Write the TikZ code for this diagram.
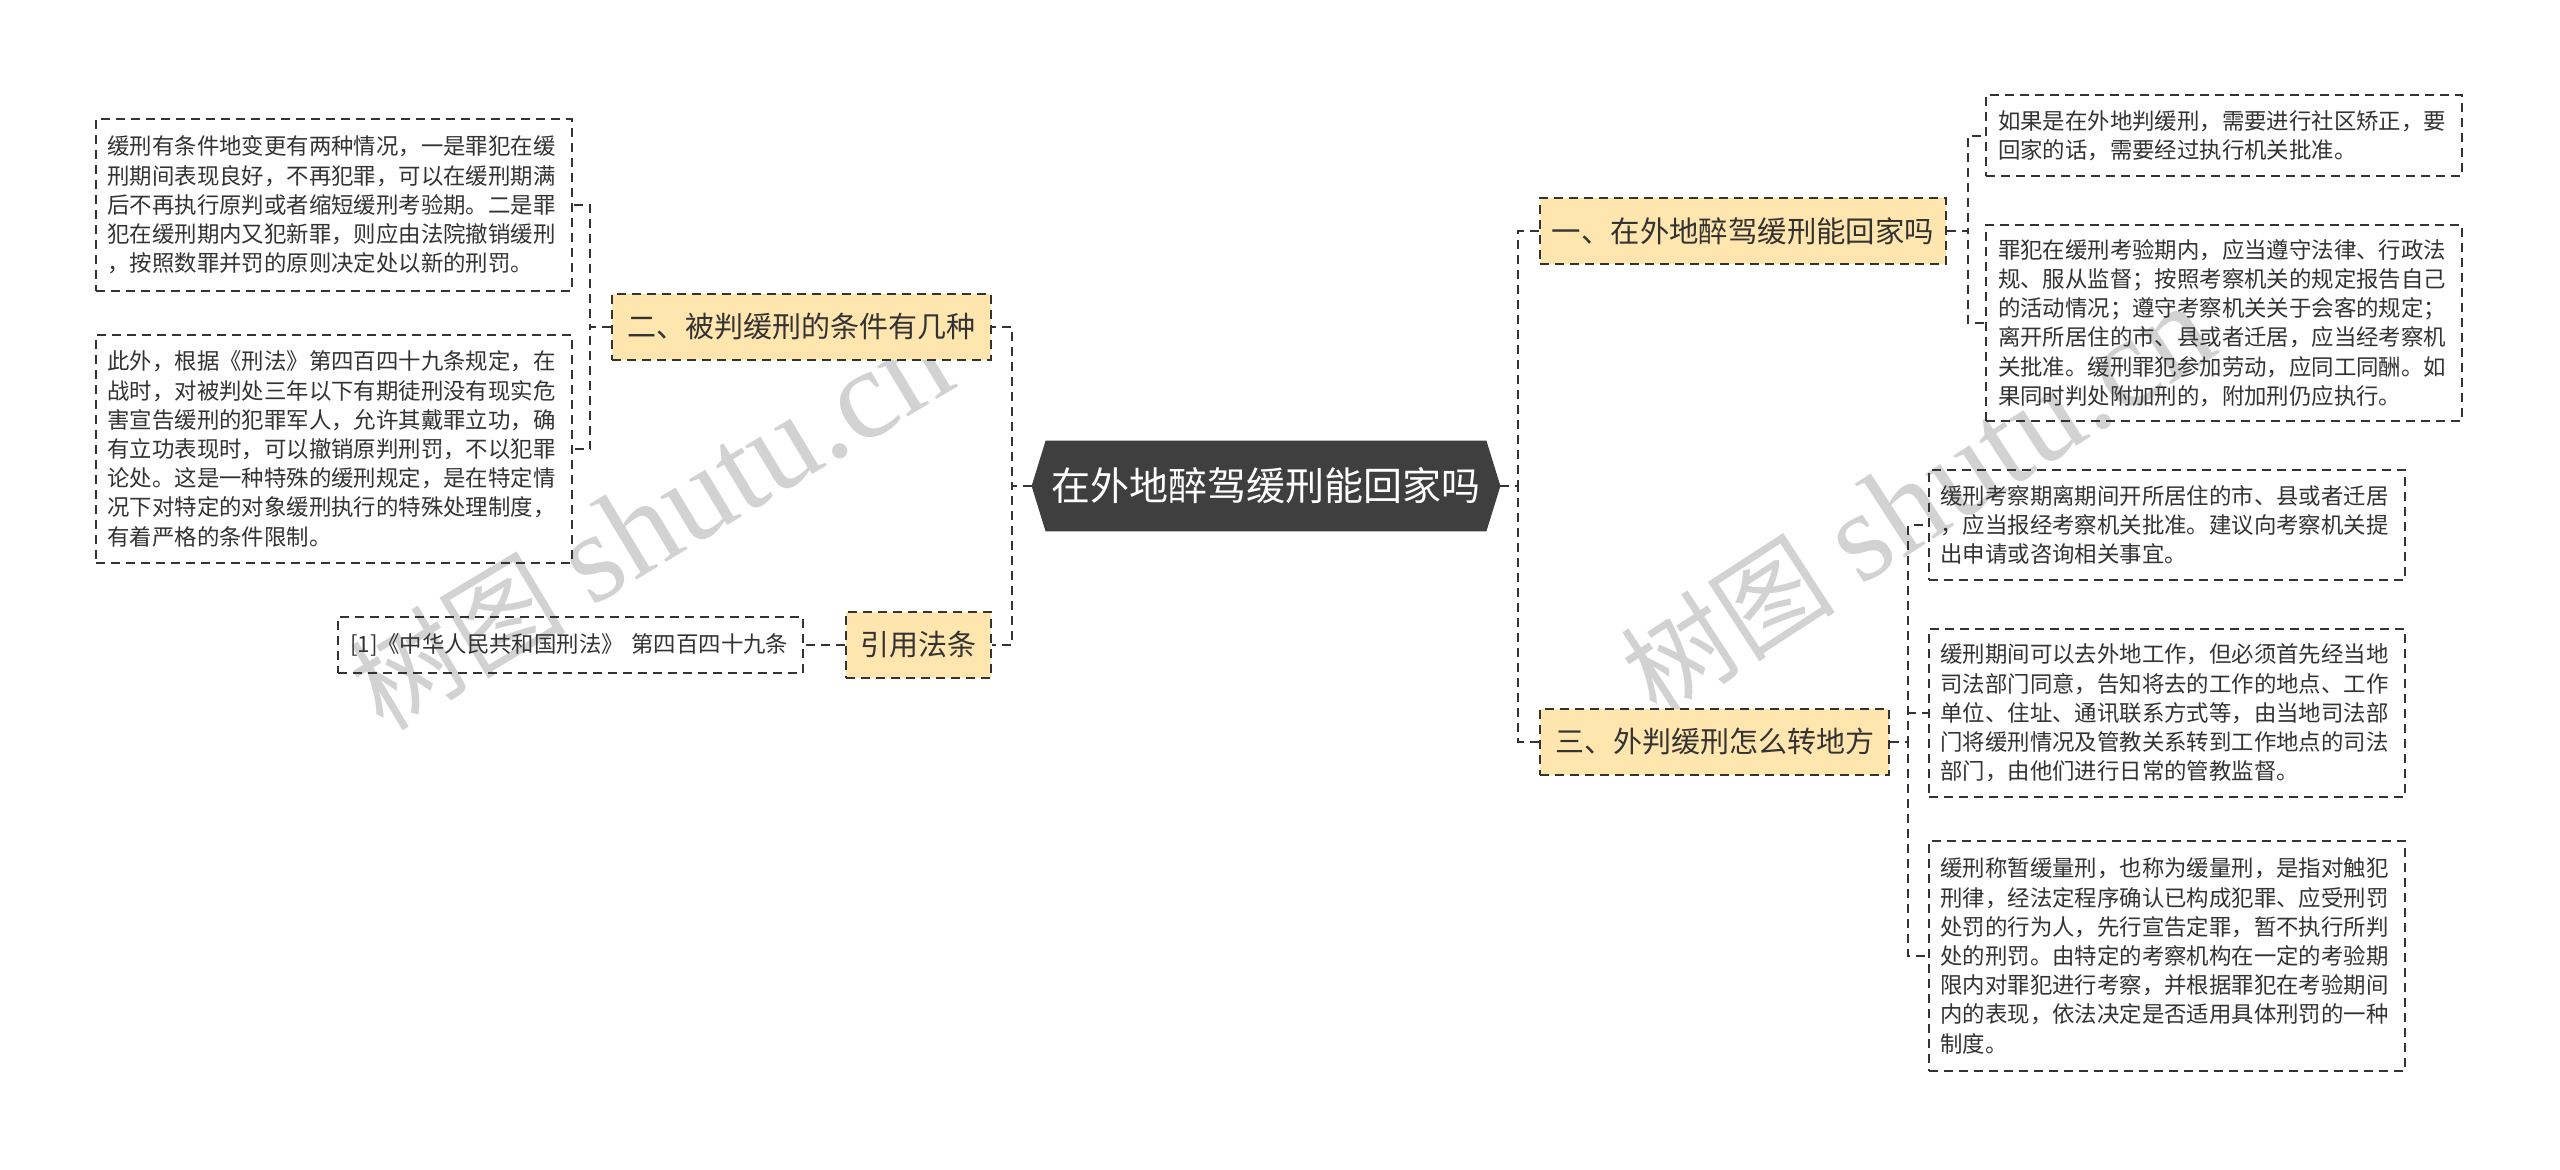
\documentclass[tikz,border=0pt]{standalone}
\usepackage{fontspec}
\setmainfont{Noto Sans CJK SC}
\newfontfamily\wmlatin{Liberation Serif}
\usetikzlibrary{calc,backgrounds}
\definecolor{boxyellow}{HTML}{FFE5AE}
\definecolor{maindark}{HTML}{3F3F3F}
\definecolor{linecol}{HTML}{333333}
\definecolor{wmgray}{HTML}{D2D2D2}
\begin{document}
\begin{tikzpicture}[x=0.5pt,y=-0.5pt,
  conn/.style={draw=linecol, line width=1pt, dash pattern=on 4.5pt off 3pt},
  leaf/.style={draw=linecol, line width=1pt, dash pattern=on 4.5pt off 3pt,
    align=left, text width=226pt, inner xsep=6pt, inner ysep=0pt, text=linecol,
    font=\fontsize{11.2pt}{14.6pt}\selectfont},
  branch/.style={draw=linecol, fill=boxyellow, line width=1pt, dash pattern=on 4.5pt off 3pt,
    inner sep=0pt, minimum height=33pt, text=linecol,
    font=\fontsize{14.5pt}{17pt}\selectfont},
  mainnode/.style={inner sep=0pt, minimum width=220pt, minimum height=45pt, text=white,
    font=\fontsize{19.5pt}{23pt}\selectfont},
  wm/.style={text=wmgray, inner sep=0pt}
]
\useasboundingbox (0,0) rectangle (2560,1169);
\begin{scope}[on background layer]
\fill[white] (0,0) rectangle (2560,1169);
\end{scope}

% watermarks
\node[wm, rotate=31] (wmA) at (651,524) {\fontsize{54pt}{60pt}\selectfont 树图\hspace{0.25em}{\wmlatin\fontsize{64pt}{70pt}\selectfont shutu.cn}};
\node[wm, rotate=33] (wmB) at (1917,501) {\fontsize{54pt}{60pt}\selectfont 树图\hspace{0.25em}{\wmlatin\fontsize{64pt}{70pt}\selectfont shutu.cn}};

% main node
\node[mainnode] (main) at (1266,486) {在外地醉驾缓刑能回家吗};
\coordinate (mainL) at ($(main.west)+(-14,0)$);
\coordinate (mainR) at ($(main.east)+(14,0)$);
\begin{scope}[on background layer]
\fill[maindark] (mainL) -- (main.north west) -- (main.north east) -- (mainR) -- (main.south east) -- (main.south west) -- cycle;
\end{scope}

% branches
\node[branch, minimum width=203pt, font=\fontsize{14.7pt}{17pt}\selectfont] (b1) at (1743,231) {一、在外地醉驾缓刑能回家吗};
\node[branch, minimum width=189.5pt] (b2) at (801.5,326.5) {二、被判缓刑的条件有几种};
\node[branch, minimum width=174.5pt] (b3) at (1714.5,741.5) {三、外判缓刑怎么转地方};
\node[branch, minimum width=72.5pt] (cite) at (918.5,645) {引用法条};

% left leaves
\node[leaf, minimum height=86pt] (l1) at (333.5,205) {缓刑有条件地变更有两种情况，一是罪犯在缓\\刑期间表现良好，不再犯罪，可以在缓刑期满\\后不再执行原判或者缩短缓刑考验期。二是罪\\犯在缓刑期内又犯新罪，则应由法院撤销缓刑\\，按照数罪并罚的原则决定处以新的刑罚。};
\node[leaf, minimum height=114pt] (l2) at (333.5,449) {此外，根据《刑法》第四百四十九条规定，在\\战时，对被判处三年以下有期徒刑没有现实危\\害宣告缓刑的犯罪军人，允许其戴罪立功，确\\有立功表现时，可以撤销原判刑罚，不以犯罪\\论处。这是一种特殊的缓刑规定，是在特定情\\况下对特定的对象缓刑执行的特殊处理制度，\\有着严格的条件限制。};
\node[leaf, text width=220.5pt, minimum height=28pt] (refl) at (570.5,645) {[1]《中华人民共和国刑法》 第四百四十九条};

% right leaves
\node[leaf, minimum height=40.5pt] (r1) at (2224,135.5) {如果是在外地判缓刑，需要进行社区矫正，要\\回家的话，需要经过执行机关批准。};
\node[leaf, minimum height=98pt] (r2) at (2224,323) {罪犯在缓刑考验期内，应当遵守法律、行政法\\规、服从监督；按照考察机关的规定报告自己\\的活动情况；遵守考察机关关于会客的规定；\\离开所居住的市、县或者迁居，应当经考察机\\关批准。缓刑罪犯参加劳动，应同工同酬。如\\果同时判处附加刑的，附加刑仍应执行。};
\node[leaf, minimum height=55pt] (r3) at (2166.5,525) {缓刑考察期离期间开所居住的市、县或者迁居\\，应当报经考察机关批准。建议向考察机关提\\出申请或咨询相关事宜。};
\node[leaf, minimum height=84pt] (r4) at (2166.5,713) {缓刑期间可以去外地工作，但必须首先经当地\\司法部门同意，告知将去的工作的地点、工作\\单位、住址、通讯联系方式等，由当地司法部\\门将缓刑情况及管教关系转到工作地点的司法\\部门，由他们进行日常的管教监督。};
\node[leaf, minimum height=115pt] (r5) at (2166.5,956) {缓刑称暂缓量刑，也称为缓量刑，是指对触犯\\刑律，经法定程序确认已构成犯罪、应受刑罚\\处罚的行为人，先行宣告定罪，暂不执行所判\\处的刑罚。由特定的考察机构在一定的考验期\\限内对罪犯进行考察，并根据罪犯在考验期间\\内的表现，依法决定是否适用具体刑罚的一种\\制度。};

% connectors
\draw[conn] (mainR) -- ++(18,0) |- (b1.west);
\draw[conn] (mainR) -- ++(18,0) |- (b3.west);
\draw[conn] (mainL) -- ++(-20,0) |- (b2.east);
\draw[conn] (mainL) -- ++(-20,0) |- (cite.east);
\draw[conn] (b1.east) -- ++(21,0) |- (r1.west);
\draw[conn] (b1.east) -- ++(21,0) |- (r2.west);
\draw[conn] (b3.east) -- ++(18,0) |- (r3.west);
\draw[conn] (b3.east) -- ++(18,0) |- (r4.west);
\draw[conn] (b3.east) -- ++(18,0) |- (r5.west);
\draw[conn] (b2.west) -- ++(-21,0) |- (l1.east);
\draw[conn] (b2.west) -- ++(-21,0) |- (l2.east);
\draw[conn] (cite.west) -- (refl.east);
\end{tikzpicture}
\end{document}
